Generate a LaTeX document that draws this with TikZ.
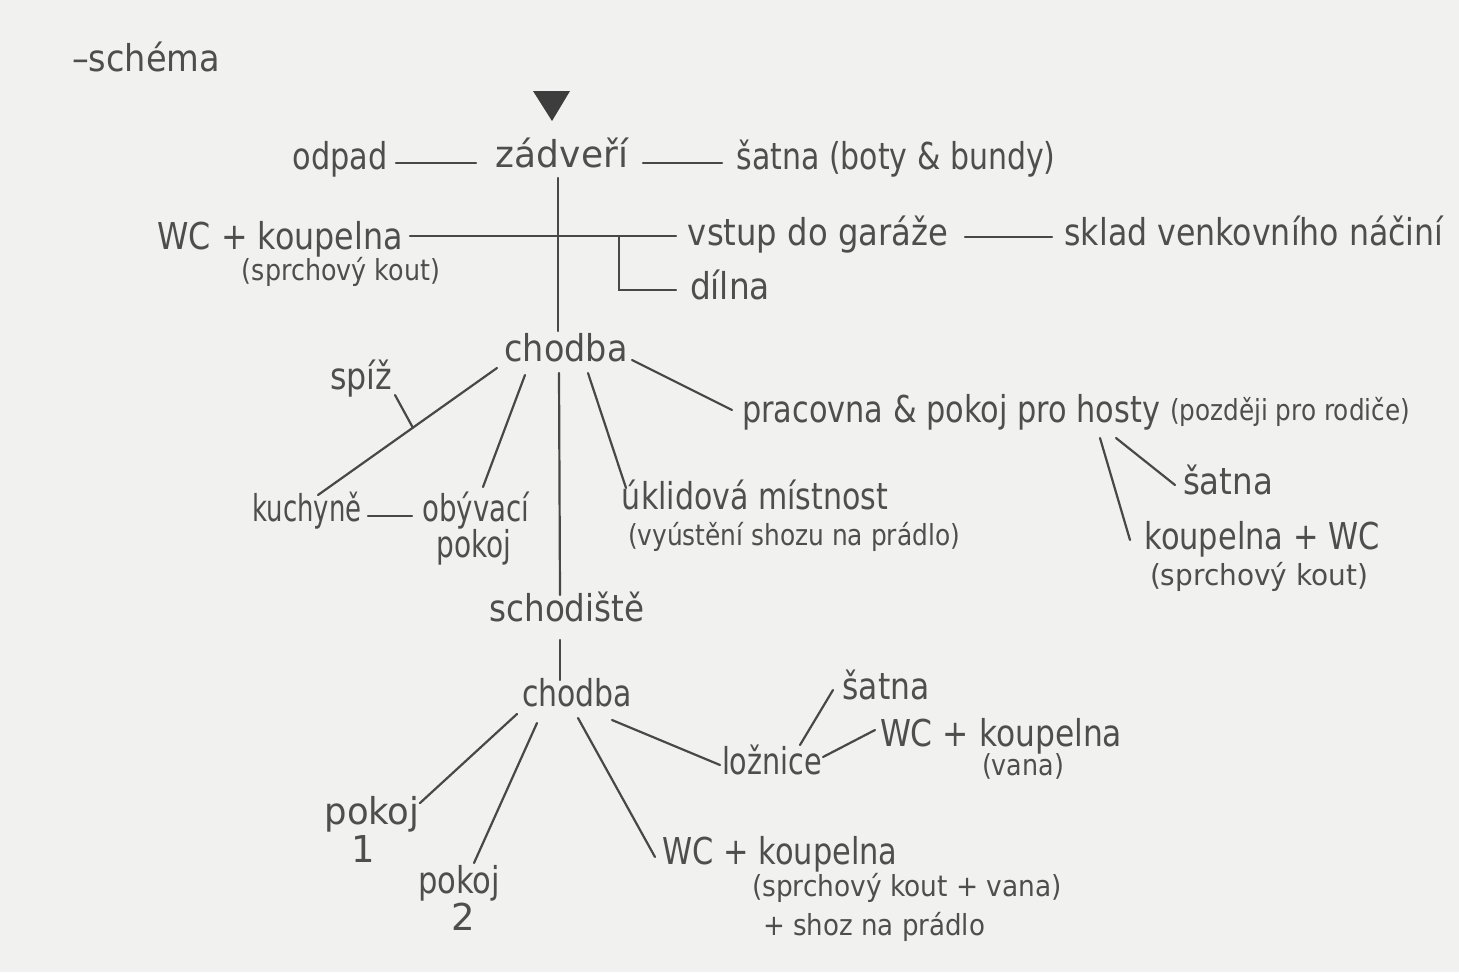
\documentclass[tikz,border=0pt]{standalone}
\usepackage{fontspec}
\setmainfont{DejaVu Sans}
\usepackage{graphicx}
\definecolor{paper}{RGB}{241,241,240}
\definecolor{ink}{RGB}{78,78,78}
\definecolor{lead}{RGB}{72,72,72}
\newcommand\fw[2]{\resizebox{#1pt}{\height}{#2}}
\begin{document}
\begin{tikzpicture}[x=1pt,y=-1pt,
  lbl/.style={inner sep=0pt, text=ink, font=\fontsize{37}{40}\selectfont, text height=27pt, text depth=8pt},
  sm/.style={lbl, font=\fontsize{29}{32}\selectfont, text height=21pt, text depth=6pt},
  ln/.style={draw=lead, line width=2.2pt, line cap=round}]
\fill[paper] (0,0) rectangle (1459,972);
\useasboundingbox (0,0) rectangle (1459,972);

% entrance marker
\fill[lead!85!black] (533,91) -- (570,91) -- (552,121) -- cycle;

% labels
\node[lbl] (schema) at (146,62) {\fw{148}{–schéma}};
\node[lbl] (zadv) at (562,158) {\fw{132}{zádveří}};
\node[lbl] (odpad) at (340,160) {\fw{95}{odpad}};
\node[lbl] (satna1) at (896,160) {\fw{319}{šatna (boty \& bundy)}};
\node[lbl] (wc1) at (280,240) {\fw{245}{WC + koupelna}};
\node[sm] (wc1b) at (341,273) {\fw{198}{(sprchový kout)}};
\node[lbl] (garaz) at (818,236) {\fw{260}{vstup do garáže}};
\node[lbl] (sklad) at (1254,236) {\fw{379}{sklad venkovního náčiní}};
\node[lbl] (dilna) at (730,290) {\fw{80}{dílna}};
\node[lbl] (ch1) at (566,352) {\fw{123}{chodba}};
\node[lbl] (spiz) at (361,380) {\fw{62}{spíž}};
\node[lbl] (kuch) at (307,512) {\fw{109}{kuchyně}};
\node[lbl] (obyv) at (476,512) {\fw{107}{obývací}};
\node[lbl] (obyvb) at (474,548) {\fw{75}{pokoj}};
\node[lbl] (uklid) at (755,500) {\fw{266}{úklidová místnost}};
\node[sm] (uklidb) at (794,538) {\fw{332}{(vyústění shozu na prádlo)}};
\node[lbl] (prac) at (951,413) {\fw{418}{pracovna \& pokoj pro hosty}};
\node[sm] (pozd) at (1290,413) {\fw{240}{(později pro rodiče)}};
\node[lbl] (satna2) at (1228,485) {\fw{90}{šatna}};
\node[lbl] (kwc) at (1262,540) {\fw{235}{koupelna + WC}};
\node[sm] (kwcb) at (1259,578) {\fw{218}{(sprchový kout)}};
\node[lbl] (schod) at (567,612) {\fw{155}{schodiště}};
\node[lbl] (ch2) at (577,697) {\fw{110}{chodba}};
\node[lbl] (pok1) at (372,815) {\fw{95}{pokoj}};
\node[lbl] (pok1n) at (363,853) {1};
\node[lbl] (pok2) at (459,884) {\fw{82}{pokoj}};
\node[lbl] (pok2n) at (463,921) {2};
\node[lbl] (wc3) at (780,855) {\fw{235}{WC + koupelna}};
\node[sm] (wc3b) at (907,889) {\fw{310}{(sprchový kout + vana)}};
\node[sm] (wc3c) at (874,928) {\fw{222}{+ shoz na prádlo}};
\node[lbl] (lozn) at (772,765) {\fw{100}{ložnice}};
\node[lbl] (satna3) at (886,690) {\fw{87}{šatna}};
\node[lbl] (wc2) at (1001,737) {\fw{242}{WC + koupelna}};
\node[sm] (wc2b) at (1023,768) {\fw{82}{(vana)}};

% connectors
\draw[ln] ([shift={(56,3)}]odpad.center) -- ([shift={(-86,5)}]zadv.center);
\draw[ln] ([shift={(81,5)}]zadv.center) -- ([shift={(-174,3)}]satna1.center);
\draw[ln] ([shift={(-4,20)}]zadv.center) -- ([shift={(-8,-21)}]ch1.center);
\draw[ln] ([shift={(130,-4)}]wc1.center) -- coordinate[pos=0.786] (brk) ([shift={(-142,0)}]garaz.center);
\draw[ln] (brk) |- ([shift={(-54,0)}]dilna.center);
\draw[ln] ([shift={(147,1)}]garaz.center) -- ([shift={(-202,1)}]sklad.center);

\draw[ln] ([shift={(-69,16)}]ch1.center) -- coordinate[pos=0.47] (spj) ([shift={(11,-17)}]kuch.center);
\draw[ln] ([shift={(34,15)}]spiz.center) -- (spj);
\draw[ln] ([shift={(-41,23)}]ch1.center) -- ([shift={(7,-25)}]obyv.center);
\draw[ln] ([shift={(-7,21)}]ch1.center) -- ([shift={(-7,-17)}]schod.center);
\draw[ln] ([shift={(22,21)}]ch1.center) -- ([shift={(-129,-12)}]uklid.center);
\draw[ln] ([shift={(66,8)}]ch1.center) -- ([shift={(-219,-3)}]prac.center);
\draw[ln] ([shift={(61,4)}]kuch.center) -- ([shift={(-64,4)}]obyv.center);
\draw[ln] ([shift={(149,25)}]prac.center) -- ([shift={(-132,0)}]kwc.center);
\draw[ln] ([shift={(165,25)}]prac.center) -- ([shift={(-53,0)}]satna2.center);

\draw[ln] ([shift={(-7,28)}]schod.center) -- ([shift={(-17,-17)}]ch2.center);
\draw[ln] ([shift={(-60,17)}]ch2.center) -- ([shift={(48,-12)}]pok1.center);
\draw[ln] ([shift={(-40,26)}]ch2.center) -- ([shift={(15,-21)}]pok2.center);
\draw[ln] ([shift={(1,21)}]ch2.center) -- ([shift={(-125,2)}]wc3.center);
\draw[ln] ([shift={(35,23)}]ch2.center) -- ([shift={(-52,0)}]lozn.center);
\draw[ln] ([shift={(28,-20)}]lozn.center) -- ([shift={(-53,0)}]satna3.center);
\draw[ln] ([shift={(51,-8)}]lozn.center) -- ([shift={(-126,-7)}]wc2.center);
\end{tikzpicture}
\end{document}
